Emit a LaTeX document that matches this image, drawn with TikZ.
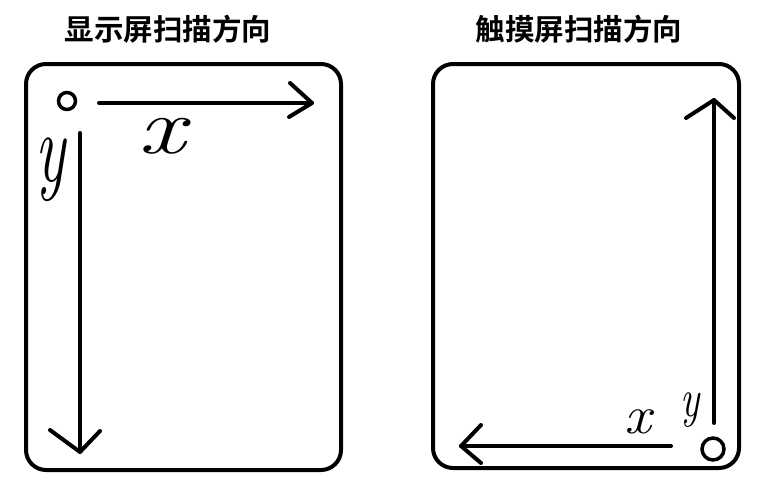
\documentclass[tikz,border=0pt]{standalone}
\usepackage{fontspec}
\newfontfamily\cjk{Noto Sans CJK SC Bold}
\begin{document}
\begin{tikzpicture}[x=1pt,y=-1pt,
  frame/.style={line width=4pt,rounded corners=20pt},
  stroke/.style={line width=4pt,line cap=round,line join=round},
  title/.style={font=\cjk\fontsize{29.5}{30}\selectfont,inner sep=0pt},
  hand/.style={inner sep=0pt}]
\useasboundingbox (0,0) rectangle (759,498);
% titles
\node[title] (t1) at (168,29) {显示屏扫描方向};
\node[title] (t2) at (579,29) {触摸屏扫描方向};
% frames
\draw[frame] (26,64) rectangle (341,470);
\draw[frame] (433,64) rectangle (739,468);
% left: origin and arrows
\node[circle,draw,line width=3.5pt,minimum size=17pt,inner sep=0pt] (o1) at (67,101) {};
\coordinate (xs) at (99,103);
\coordinate (xe) at (312,103);
\draw[stroke] (xs) -- (xe);
\draw[stroke] (290,83) -- (xe) -- (289,117);
\coordinate (ys) at (80,133);
\coordinate (ye) at (80,452);
\draw[stroke] (ys) -- (ye);
\draw[stroke] (50,430) -- (ye) -- (100,431);
\node[hand,font=\itshape\fontsize{80}{80}\selectfont,xscale=1.3] (lx) at (162,136) {x};
\node[hand,font=\itshape\fontsize{90}{90}\selectfont,xscale=0.7,yscale=1.1] (ly) at (50,170) {y};
% right: origin and arrows
\node[circle,draw,line width=3.5pt,minimum size=22pt,inner sep=0pt] (o2) at (713,449) {};
\coordinate (us) at (714,423);
\coordinate (ue) at (714,100);
\draw[stroke] (us) -- (ue);
\draw[stroke] (686,118) -- (ue) -- (734,118);
\coordinate (ls) at (671,446);
\coordinate (le) at (461,446);
\draw[stroke] (ls) -- (le);
\draw[stroke] (481,425) -- (le) -- (481,463);
\node[hand,font=\itshape\fontsize{54}{54}\selectfont,xscale=1.1] (rx) at (638,422) {x};
\node[hand,font=\itshape\fontsize{54}{54}\selectfont,xscale=0.75] (ry) at (690,410) {y};
\end{tikzpicture}
\end{document}
